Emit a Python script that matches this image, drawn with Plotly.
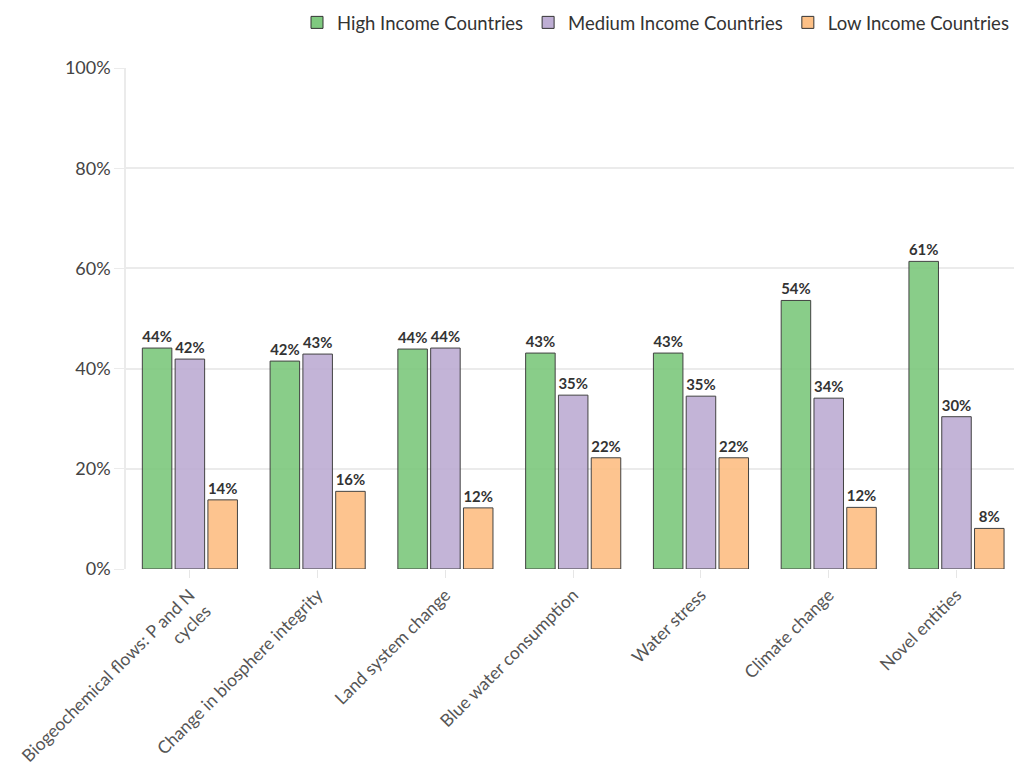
import plotly.graph_objects as go

# Planetary boundaries: share of transgression by income group
categories = [
    "Biogeochemical flows: P and N<br>cycles",
    "Change in biosphere integrity",
    "Land system change",
    "Blue water consumption",
    "Water stress",
    "Climate change",
    "Novel entities",
]
high_income = [44.1, 41.5, 43.9, 43.1, 43.1, 53.6, 61.4]
medium_income = [41.9, 42.9, 44.1, 34.7, 34.5, 34.1, 30.4]
low_income = [13.8, 15.5, 12.2, 22.2, 22.2, 12.3, 8.1]

y_ticks = [0, 20, 40, 60, 80, 100]
y_tick_labels = ["0%", "20%", "40%", "60%", "80%", "100%"]

series = [
    ("High Income Countries", high_income, "#7fc97f"),
    ("Medium Income Countries", medium_income, "#beaed4"),
    ("Low Income Countries", low_income, "#fdc086"),
]

FONT = "Source Sans Pro, Lato, sans-serif"

fig = go.Figure()
for name, vals, color in series:
    fig.add_trace(go.Bar(
        name=name,
        x=categories,
        y=vals,
        marker=dict(color=color, opacity=0.92,
                    line=dict(color="#333333", width=1)),
        texttemplate="%{y:.0f}%",
        textposition="outside",
        textfont=dict(family=FONT, size=15, color="#333333", weight="bold"),
        cliponaxis=False,
    ))

fig.update_layout(
    width=1014,
    height=771,
    margin=dict(l=126, r=0, t=68, b=202, autoexpand=False),
    paper_bgcolor="white",
    plot_bgcolor="white",
    font=dict(family=FONT, color="#444444"),
    barmode="group",
    bargap=0.23,
    bargroupgap=0.1,
    showlegend=True,
    legend=dict(
        orientation="h",
        x=1.0, xanchor="right",
        y=0.995, yanchor="top",
        yref="container",
        font=dict(family=FONT, size=18.5, color="#333333"),
        itemwidth=30,
        traceorder="normal",
    ),
)

fig.update_xaxes(
    type="category",
    range=[-0.5, 6.45],
    automargin=False,
    tickangle=-45,
    tickfont=dict(family=FONT, size=17.5, color="#555555"),
    ticks="outside",
    ticklen=8,
    tickcolor="#e6e6e6",
    showgrid=False,
    showline=False,
    zeroline=False,
)
fig.update_yaxes(
    range=[0, 100],
    automargin=False,
    tickmode="array",
    tickvals=y_ticks,
    ticktext=y_tick_labels,
    tickfont=dict(family=FONT, size=18, color="#444444"),
    ticks="outside",
    ticklen=10,
    tickcolor="#ebebeb",
    showgrid=True,
    gridcolor="#ebebeb",
    gridwidth=1.5,
    showline=True,
    linecolor="#ebebeb",
    linewidth=1.5,
    zeroline=False,
)

fig.write_html("out.html")
